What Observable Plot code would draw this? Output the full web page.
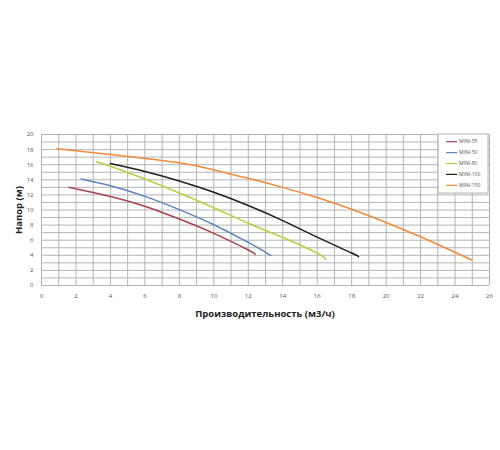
<!DOCTYPE html>
<html>
<head>
<meta charset="utf-8">
<script src="https://cdn.jsdelivr.net/npm/d3@7"></script>
<script src="https://cdn.jsdelivr.net/npm/@observablehq/plot@0.6"></script>
<style>
  html, body { margin: 0; padding: 0; background: #fff; }
  #chart { position: relative; width: 500px; height: 450px; }
</style>
</head>
<body>
<div id="chart"></div>
<script>
const seriesNames = ["MINI-55", "MINI-50", "MINI-80", "MINI-100", "MINI-150"];
const seriesColors = ["#a8434f", "#5a84bf", "#b3d23f", "#1e1e1e", "#f08a3c"];

const q55 = [1.6, 2, 4, 6, 8, 10, 12, 12.4];
const h55 = [13.0, 12.8, 11.8, 10.5, 8.8, 6.9, 4.7, 4.1];

const q50 = [2.3, 4, 6, 8, 10, 12, 13.3];
const h50 = [14.1, 13.2, 11.8, 10.05, 8.05, 5.7, 4.0];

const q80 = [3.2, 4, 6, 8, 10, 12, 14, 16, 16.5];
const h80 = [16.4, 15.8, 14.1, 12.25, 10.3, 8.25, 6.35, 4.3, 3.45];

const q100 = [4, 6, 8, 10, 12, 14, 16, 18, 18.4];
const h100 = [16.15, 15.1, 13.85, 12.35, 10.6, 8.6, 6.4, 4.3, 3.8];

const q150 = [0.9, 4, 8, 10, 12, 14, 16, 18, 20, 22, 24, 25];
const h150 = [18.1, 17.35, 16.25, 15.3, 14.2, 13.0, 11.65, 10.1, 8.35, 6.45, 4.4, 3.35];

const xTicks = [0, 2, 4, 6, 8, 10, 12, 14, 16, 18, 20, 22, 24, 26];
const yTicks = [0, 2, 4, 6, 8, 10, 12, 14, 16, 18, 20];
const xGrid = d3.range(0, 27, 1);
const yGrid = d3.range(0, 21, 1);

const qs = [q55, q50, q80, q100, q150];
const hs = [h55, h50, h80, h100, h150];
const data = [];
seriesNames.forEach((name, i) => {
  qs[i].forEach((q, j) => data.push({series: name, q, h: hs[i][j]}));
});

const font = "'Open Sans', 'Liberation Sans', sans-serif";

const plot = Plot.plot({
  width: 500,
  height: 450,
  marginLeft: 41,
  marginRight: 11,
  marginTop: 134,
  marginBottom: 165,
  style: {fontFamily: font, background: "#fff"},
  x: {domain: [0, 26]},
  y: {domain: [0, 20]},
  color: {domain: seriesNames, range: seriesColors},
  marks: [
    Plot.ruleX(xGrid, {x: d => d, stroke: "#b4b4b4", strokeWidth: 1}),
    Plot.ruleY(yGrid, {y: d => d, stroke: "#b4b4b4", strokeWidth: 1}),
    Plot.axisX(xTicks, {tickSize: 0, tickPadding: 8, fontSize: 6, fill: "#555", label: null}),
    Plot.axisY(yTicks, {tickSize: 0, tickPadding: 8, fontSize: 6, fill: "#555", label: null}),
    Plot.line(data, {x: "q", y: "h", z: "series", stroke: "series", strokeWidth: 1.5, curve: "natural"})
  ]
});

document.getElementById("chart").appendChild(plot);

const svg = d3.select(plot);
// axis titles
svg.append("text")
  .attr("x", 265).attr("y", 317)
  .attr("text-anchor", "middle")
  .attr("font-family", font).attr("font-size", 9.5).attr("font-weight", "bold").attr("fill", "#222")
  .text("Производительность (м3/ч)");
svg.append("text")
  .attr("transform", "translate(22,210) rotate(-90)")
  .attr("text-anchor", "middle")
  .attr("font-family", font).attr("font-size", 9.5).attr("font-weight", "bold").attr("fill", "#222")
  .text("Напор (м)");

// legend
const lg = svg.append("g").attr("text-anchor", "start");
lg.append("rect").attr("x", 438).attr("y", 134).attr("width", 50).attr("height", 59)
  .attr("fill", "#fff").attr("stroke", "#b4b4b4");
seriesNames.forEach((name, i) => {
  const y = 141.7 + i * 10.9;
  lg.append("line").attr("x1", 446).attr("x2", 457).attr("y1", y).attr("y2", y)
    .attr("stroke", seriesColors[i]).attr("stroke-width", 1.2);
  lg.append("text").attr("x", 459).attr("y", y).attr("dy", "0.35em")
    .attr("text-anchor", "start")
    .attr("font-family", font).attr("font-size", 5).attr("fill", "#555").text(name);
});
</script>
</body>
</html>
